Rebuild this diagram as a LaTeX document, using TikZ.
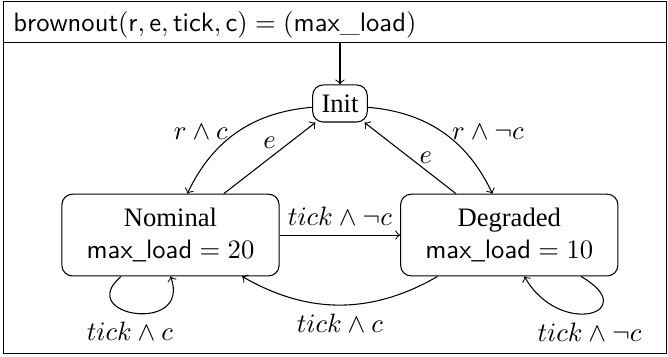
\documentclass[tikz,border=0pt]{standalone}
\usepackage{fontspec}
\newfontfamily\statefont{Liberation Serif}

\begin{document}
\begin{tikzpicture}[
    modebox/.style={draw, rounded corners, font=\statefont, align=center},
    bigmode/.style={modebox, minimum width=2.87cm, minimum height=1.08cm}
]

    % Fix the size of the picture
    \useasboundingbox (0,0) rectangle (8.824,4.703);

    % Outer frame and the line under the header
    \draw (0.05,0.03) rectangle (8.80,4.68);
    \draw (0.05,4.139) -- (8.80,4.139);

    % Header text
    \node[anchor=base west, inner sep=0pt] (title) at (0.17,4.284)
        {$\mathsf{brownout}(\mathsf{r}, \mathsf{e}, \mathsf{tick}, \mathsf{c}) = (\mathsf{max\_load})$};

    % The three modes
    \node[modebox, minimum height=0.49cm] (init) at (4.491,3.336) {Init};
    \node[bigmode] (nominal) at (2.252,1.598) {Nominal\\$\mathsf{max\_load} = 20$};
    \node[bigmode] (degraded) at (6.727,1.598) {Degraded\\$\mathsf{max\_load} = 10$};

    % Entry arrow from the header line
    \coordinate (entry) at (4.491,4.139);
    \draw[->] (entry) -- (init);

    % Transitions out of Init
    \draw[->] (init) to[bend right] node[left] {$r \wedge c$} (nominal);
    \draw[->] (init) to[bend left] node[right] {$r \wedge \neg c$} (degraded);

    % Transitions back to Init
    \draw[->] (nominal) -- node[above] {$e$} (init);
    \draw[->] (degraded) -- node[right] {$e$} (init);

    % Transitions between Nominal and Degraded
    \draw[->] (nominal) -- node[above] {$tick \wedge \neg c$} (degraded);
    \draw[->] (degraded) to[bend left] node[below] {$tick \wedge c$} (nominal);

    % Self loops
    \draw[->] (nominal.220) .. controls +(220:0.82) and +(290:0.82) .. (nominal.south)
        node[pos=0.45, below] {$tick \wedge c$};
    \draw[->] (degraded.330) .. controls +(330:0.95) and +(300:0.95) .. (degraded.290)
        node[pos=0.5, below] {$tick \wedge \neg c$};

\end{tikzpicture}
\end{document}
